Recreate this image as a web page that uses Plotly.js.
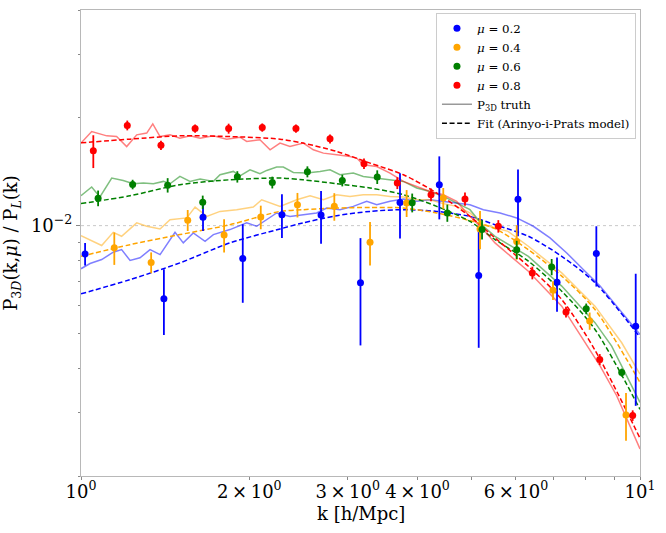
<!DOCTYPE html>
<html>
<head>
<meta charset="utf-8">
<script src="https://cdn.plot.ly/plotly-3.0.1.min.js"></script>
<style>html,body{margin:0;padding:0;background:#fff;}#chart{width:666px;height:533px;}</style>
</head>
<body>
<div id="chart"></div>
<script>
// ---- measured points (k in h/Mpc, ratio P3D/PL, 1-sigma error) ----
const kBlue = [1.017, 1.407, 1.653, 1.947, 2.288, 2.688, 3.162, 3.721, 4.375, 5.146, 6.050, 7.105, 8.354, 9.825];
const pBlue = [0.00834, 0.00625, 0.01056, 0.00809, 0.01073, 0.0107, 0.00693, 0.01161, 0.01301, 0.00726, 0.01184, 0.00695, 0.00836, 0.00524];
const eBlue = [0.0006, 0.0013, 0.0009, 0.0020, 0.0015, 0.0018, 0.0023, 0.0024, 0.0026, 0.0027, 0.0025, 0.0012, 0.0016, 0.0021];

const kOrange = [1.147, 1.335, 1.552, 1.803, 2.097, 2.439, 2.839, 3.289, 3.824, 4.447, 5.174, 6.018, 6.988, 8.128, 9.44];
const pOrange = [0.00867, 0.00789, 0.01036, 0.00942, 0.01057, 0.01144, 0.01132, 0.00899, 0.01157, 0.01194, 0.00979, 0.00903, 0.0066, 0.00542, 0.00296];
const eOrange = [0.0009, 0.00053, 0.0007, 0.001, 0.0008, 0.0009, 0.001, 0.00125, 0.001, 0.0008, 0.0012, 0.001, 0.0004, 0.0003, 0.00045];

const kGreen = [1.073, 1.237, 1.429, 1.651, 1.904, 2.199, 2.541, 2.934, 3.388, 3.913, 4.522, 5.217, 6.018, 6.95, 8.013, 9.275];
const pGreen = [0.01193, 0.01303, 0.01297, 0.01163, 0.01369, 0.0132, 0.01414, 0.01337, 0.01367, 0.01159, 0.01085, 0.00975, 0.00857, 0.00767, 0.00586, 0.00389];
const eGreen = [0.0006, 0.0004, 0.0006, 0.0005, 0.0005, 0.0005, 0.0005, 0.0005, 0.0006, 0.0007, 0.0006, 0.0006, 0.0005, 0.0004, 0.0002, 0.0001];

const kRed = [1.052, 1.210, 1.390, 1.600, 1.837, 2.110, 2.424, 2.789, 3.208, 3.680, 4.228, 4.863, 5.579, 6.418, 7.373, 8.472, 9.703];
const pRed = [0.01618, 0.01905, 0.01676, 0.01866, 0.01866, 0.01879, 0.01866, 0.01747, 0.01489, 0.01315, 0.0122, 0.01187, 0.00996, 0.00738, 0.00574, 0.00423, 0.00295];
const eRed = [0.0017, 0.0006, 0.0005, 0.0005, 0.0006, 0.0005, 0.0005, 0.0005, 0.0005, 0.0005, 0.0005, 0.0005, 0.0004, 0.0003, 0.0002, 0.00015, 0.0001];

// ---- P3D truth curves ----
const kTruthRed = [1.000, 1.045, 1.112, 1.158, 1.207, 1.258, 1.311, 1.344, 1.385, 1.443, 1.503, 1.567, 1.633, 1.725, 1.822, 1.925, 1.979, 2.090, 2.179, 2.270, 2.365, 2.499, 2.604, 2.714, 2.867, 3.028, 3.113, 3.199, 3.381, 3.571, 3.773, 3.986, 4.210, 4.448, 4.700, 4.897, 5.246, 5.503, 6.314, 7.244, 7.973, 8.483, 9.085, 10.0];
const pTruthRed = [0.01700, 0.01831, 0.01781, 0.01773, 0.01663, 0.01793, 0.01813, 0.01924, 0.01773, 0.01793, 0.01755, 0.01781, 0.01755, 0.01781, 0.01744, 0.01766, 0.01718, 0.01737, 0.01628, 0.01700, 0.01663, 0.01700, 0.01628, 0.01594, 0.01577, 0.01560, 0.01544, 0.01479, 0.01463, 0.01402, 0.01329, 0.01287, 0.01246, 0.01220, 0.01169, 0.01085, 0.00975, 0.00895, 0.00746, 0.00596, 0.00471, 0.00406, 0.00335, 0.00238];

const kTruthGreen = [1.000, 1.045, 1.081, 1.135, 1.190, 1.240, 1.293, 1.347, 1.404, 1.443, 1.503, 1.567, 1.633, 1.725, 1.773, 1.873, 1.925, 2.006, 2.090, 2.149, 2.239, 2.301, 2.398, 2.534, 2.677, 2.789, 2.906, 3.070, 3.199, 3.381, 3.571, 3.773, 3.986, 4.210, 4.448, 4.700, 4.964, 5.246, 5.503, 6.314, 7.244, 8.308, 8.899, 10.0];
const pTruthGreen = [0.01212, 0.01282, 0.01202, 0.01358, 0.01337, 0.01309, 0.01315, 0.01309, 0.01329, 0.01309, 0.01372, 0.01329, 0.01349, 0.01329, 0.01387, 0.01417, 0.01378, 0.01432, 0.01396, 0.01426, 0.01457, 0.01457, 0.01408, 0.01402, 0.01417, 0.01432, 0.01387, 0.01402, 0.01372, 0.01358, 0.01343, 0.01329, 0.01274, 0.01246, 0.01207, 0.01157, 0.01108, 0.00996, 0.00934, 0.00821, 0.00678, 0.00536, 0.00461, 0.00321];

const kTruthOrange = [1.000, 1.038, 1.089, 1.142, 1.182, 1.258, 1.311, 1.385, 1.443, 1.546, 1.600, 1.679, 1.773, 1.899, 2.033, 2.105, 2.270, 2.432, 2.569, 2.714, 2.867, 3.028, 3.199, 3.381, 3.571, 3.773, 3.986, 4.210, 4.448, 4.700, 4.964, 5.246, 5.806, 6.314, 7.244, 8.308, 9.275, 10.0];
const pTruthOrange = [0.00938, 0.00914, 0.00880, 0.00958, 0.00934, 0.01018, 0.00996, 0.00979, 0.01039, 0.01051, 0.01127, 0.01061, 0.01096, 0.01108, 0.01127, 0.01181, 0.01132, 0.01181, 0.01212, 0.01181, 0.01220, 0.01207, 0.01220, 0.01220, 0.01207, 0.01202, 0.01181, 0.01181, 0.01152, 0.01132, 0.01085, 0.01006, 0.00964, 0.00876, 0.00738, 0.00596, 0.00471, 0.00385];

const kTruthBlue = [1.000, 1.038, 1.089, 1.142, 1.182, 1.224, 1.275, 1.329, 1.385, 1.473, 1.524, 1.588, 1.667, 1.725, 1.847, 1.979, 2.062, 2.149, 2.239, 2.365, 2.499, 2.640, 2.751, 2.906, 3.070, 3.244, 3.381, 3.571, 3.773, 3.986, 4.210, 4.448, 4.700, 4.964, 5.246, 5.618, 6.018, 6.444, 6.902, 7.395, 7.916, 8.483, 9.085, 9.865, 10.0];
const pTruthBlue = [0.00758, 0.00784, 0.00804, 0.00843, 0.00857, 0.00800, 0.00813, 0.00857, 0.00830, 0.00958, 0.00895, 0.00954, 0.00904, 0.00944, 0.00975, 0.01018, 0.00996, 0.01039, 0.01085, 0.01061, 0.01073, 0.01085, 0.01120, 0.01108, 0.01132, 0.01169, 0.01144, 0.01169, 0.01187, 0.01169, 0.01181, 0.01169, 0.01157, 0.01144, 0.01108, 0.01085, 0.01051, 0.00996, 0.00924, 0.00839, 0.00754, 0.00678, 0.00596, 0.00513, 0.00497];

// ---- Arinyo-i-Prats fits ----
const kFit = [1.000, 1.224, 1.503, 1.847, 2.270, 2.495, 2.867, 3.289, 3.773, 4.328, 4.964, 5.503, 6.314, 7.244, 8.308, 10.0];
const pFitBlue = [0.00645, 0.00707, 0.00787, 0.00895, 0.00979, 0.01018, 0.01066, 0.01096, 0.01108, 0.01096, 0.01061, 0.01006, 0.00934, 0.00821, 0.00693, 0.00488];
const pFitOrange = [0.00821, 0.00885, 0.00944, 0.01006, 0.01096, 0.01108, 0.01120, 0.01124, 0.01120, 0.01085, 0.01033, 0.00981, 0.00857, 0.00723, 0.00583, 0.00365];
const pFitGreen = [0.01152, 0.01212, 0.01301, 0.01343, 0.01358, 0.01343, 0.01309, 0.01274, 0.01220, 0.01132, 0.01028, 0.00914, 0.00796, 0.00656, 0.00513, 0.00307];
const pFitRed = [0.01703, 0.01744, 0.01781, 0.01773, 0.01744, 0.01700, 0.01611, 0.01495, 0.01387, 0.01233, 0.01061, 0.00924, 0.00770, 0.00622, 0.00449, 0.00255];

const muLabels = ['0.2', '0.4', '0.6', '0.8'];
const refLevel = 0.01;
const kRange = [1, 10];

const xTickVals = [1, 2, 3, 4, 6, 10];
const xTickText = ['10<sup>0</sup>', '2\u2009×\u200910<sup>0</sup>', '3\u2009×\u200910<sup>0</sup>', '4\u2009×\u200910<sup>0</sup>', '6\u2009×\u200910<sup>0</sup>', '10<sup>1</sup>'];
const xMinorVals = [5, 7, 8, 9];
const yTickVals = [0.01];
const yTickText = ['10<sup>\u22122</sup>'];
const yMinorVals = [0.002, 0.003, 0.004, 0.005, 0.006, 0.007, 0.008, 0.009, 0.02, 0.03, 0.04];

const series = [
  {k: kBlue, p: pBlue, e: eBlue, kt: kTruthBlue, pt: pTruthBlue, pf: pFitBlue, c: '#0000ff', ct: 'rgba(0,0,255,0.5)'},
  {k: kOrange, p: pOrange, e: eOrange, kt: kTruthOrange, pt: pTruthOrange, pf: pFitOrange, c: '#ffa500', ct: 'rgba(255,165,0,0.5)'},
  {k: kGreen, p: pGreen, e: eGreen, kt: kTruthGreen, pt: pTruthGreen, pf: pFitGreen, c: '#008000', ct: 'rgba(0,128,0,0.5)'},
  {k: kRed, p: pRed, e: eRed, kt: kTruthRed, pt: pTruthRed, pf: pFitRed, c: '#ff0000', ct: 'rgba(255,0,0,0.5)'}
];

const FONT = 'DejaVu Serif, Liberation Serif, serif';
const traces = [];
traces.push({x: kRange, y: [refLevel, refLevel], mode: 'lines', line: {color: '#c8c8c8', width: 1, dash: 'dot'}, showlegend: false, hoverinfo: 'skip'});
series.forEach((s, i) => {
  traces.push({x: s.kt, y: s.pt, mode: 'lines', line: {color: s.ct, width: 1.5}, showlegend: false});
  traces.push({x: kFit, y: s.pf, mode: 'lines', line: {color: s.c, width: 1.5, dash: '5px,2.6px', shape: 'spline', smoothing: 0.8}, showlegend: false});
});
series.forEach((s, i) => {
  traces.push({x: s.k, y: s.p, mode: 'markers', name: '<i>μ</i> = ' + muLabels[i],
    marker: {color: s.c, size: 7},
    error_y: {type: 'data', array: s.e, visible: true, color: s.c, thickness: 1.8, width: 0}});
});
traces.push({x: [null], y: [null], mode: 'lines', name: 'P<sub>3D</sub> truth', line: {color: 'rgba(128,128,128,0.8)', width: 1.5}});
traces.push({x: [null], y: [null], mode: 'lines', name: 'Fit (Arinyo-i-Prats model)', line: {color: '#000000', width: 1.5, dash: '5px,2.6px'}});

const layout = {
  width: 666, height: 533,
  margin: {l: 81, r: 26, t: 10, b: 57},
  paper_bgcolor: '#ffffff', plot_bgcolor: '#ffffff',
  font: {family: FONT, color: '#000'},
  showlegend: true,
  legend: {x: 0.635, y: 0.994, xanchor: 'left', yanchor: 'top', bgcolor: 'rgba(255,255,255,0.85)', bordercolor: '#cccccc', borderwidth: 1, font: {family: FONT, size: 11.8, color: '#000'}, tracegroupgap: 0},
  xaxis: {
    type: 'log', range: [0, 1], showgrid: false, zeroline: false,
    showline: true, mirror: true, linecolor: '#b8b8b8', linewidth: 1,
    tickmode: 'array', tickvals: xTickVals, ticktext: xTickText,
    ticks: 'outside', ticklen: 3, tickcolor: '#888', ticklabelstandoff: -4,
    tickfont: {family: FONT, size: 18, color: '#000'},
    minor: {tickmode: 'array', tickvals: xMinorVals, ticks: 'outside', ticklen: 3, tickcolor: '#888', showgrid: false},
    title: {text: ''}
  },
  yaxis: {
    type: 'log', range: [Math.log10(0.002), Math.log10(0.04)], showgrid: false, zeroline: false,
    showline: true, mirror: true, linecolor: '#b8b8b8', linewidth: 1,
    tickmode: 'array', tickvals: yTickVals, ticktext: yTickText,
    ticks: 'outside', ticklen: 4, tickcolor: '#888', tickfont: {family: FONT, size: 18, color: '#000'},
    minor: {tickmode: 'array', tickvals: yMinorVals, ticks: 'outside', ticklen: 2.5, tickcolor: '#888', showgrid: false},
    title: {text: 'P<sub>3<i>D</i></sub>(k,<i>μ</i>) / P<sub><i>L</i></sub>(k)', font: {family: FONT, size: 18, color: '#000'}, standoff: 8}
  },
  annotations: [{
    text: 'k [h/Mpc]', xref: 'paper', yref: 'paper', x: 0.5, y: -0.08,
    xanchor: 'center', yanchor: 'middle', showarrow: false,
    font: {family: FONT, size: 18, color: '#000'}
  }]
};

Plotly.newPlot('chart', traces, layout, {displayModeBar: false, staticPlot: true});
</script>
</body>
</html>
